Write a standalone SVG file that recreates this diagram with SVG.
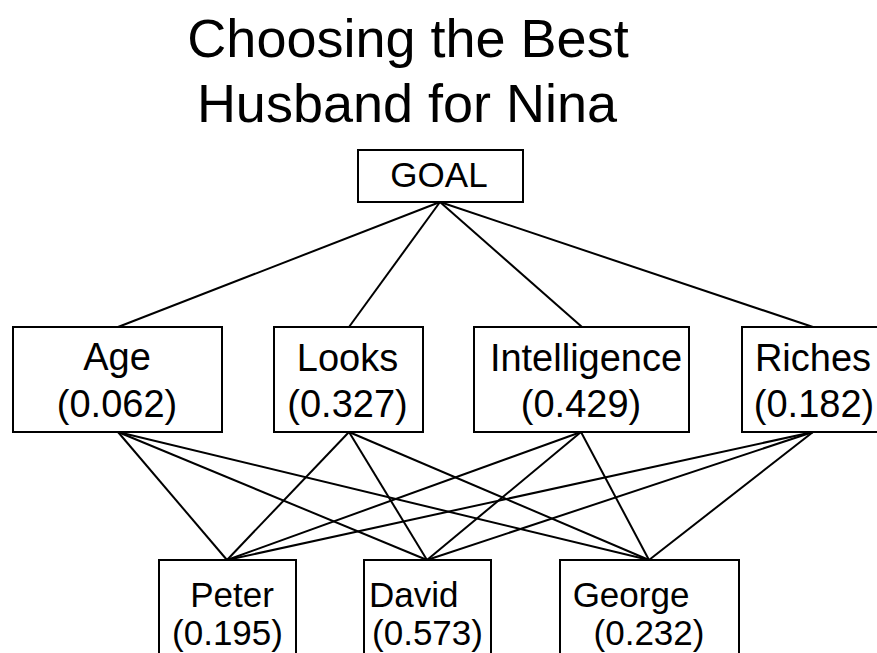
<svg xmlns="http://www.w3.org/2000/svg" width="877" height="653" viewBox="0 0 877 653">
<style>
  .box { fill: #ffffff; stroke: #000000; stroke-width: 2; }
  .edge { stroke: #000000; stroke-width: 2; fill: none; }
  .title { font-family: "Liberation Sans", Arial, sans-serif; font-size: 54px; fill: #000; text-anchor: middle; }
  .lbl { font-family: "Liberation Sans", Arial, sans-serif; font-size: 38px; fill: #000; text-anchor: middle; }
  .lbl2 { font-family: "Liberation Sans", Arial, sans-serif; font-size: 35px; fill: #000; text-anchor: middle; }
</style>
<rect width="877" height="653" fill="#ffffff"/>
<g id="title">
  <text class="title" x="408" y="57">Choosing the Best</text>
  <text class="title" x="407" y="122">Husband for Nina</text>
</g>
<g id="connectors">
  <line class="edge" x1="440" y1="202" x2="118" y2="327"/>
  <line class="edge" x1="440" y1="202" x2="349" y2="327"/>
  <line class="edge" x1="440" y1="202" x2="582" y2="327"/>
  <line class="edge" x1="440" y1="202" x2="813" y2="327"/>
  <line class="edge" x1="118" y1="432" x2="227" y2="560"/>
  <line class="edge" x1="118" y1="432" x2="427" y2="560"/>
  <line class="edge" x1="118" y1="432" x2="649" y2="560"/>
  <line class="edge" x1="349" y1="432" x2="227" y2="560"/>
  <line class="edge" x1="349" y1="432" x2="427" y2="560"/>
  <line class="edge" x1="349" y1="432" x2="649" y2="560"/>
  <line class="edge" x1="581" y1="432" x2="227" y2="560"/>
  <line class="edge" x1="581" y1="432" x2="427" y2="560"/>
  <line class="edge" x1="581" y1="432" x2="649" y2="560"/>
  <line class="edge" x1="813" y1="432" x2="227" y2="560"/>
  <line class="edge" x1="813" y1="432" x2="427" y2="560"/>
  <line class="edge" x1="813" y1="432" x2="649" y2="560"/>
</g>
<g id="goal">
  <rect class="box" x="358" y="150" width="165" height="52"/>
  <text class="lbl" x="439" y="187" style="font-size:35px">GOAL</text>
</g>
<g id="age">
  <rect class="box" x="13" y="327" width="209" height="105"/>
  <text class="lbl" x="117" y="370">Age</text>
  <text class="lbl" x="117" y="417">(0.062)</text>
</g>
<g id="looks">
  <rect class="box" x="274" y="327" width="149" height="105"/>
  <text class="lbl" x="347.5" y="371">Looks</text>
  <text class="lbl" x="347.5" y="417">(0.327)</text>
</g>
<g id="intelligence">
  <rect class="box" x="474" y="327" width="215" height="105"/>
  <text class="lbl" x="586" y="371">Intelligence</text>
  <text class="lbl" x="581" y="417">(0.429)</text>
</g>
<g id="riches">
  <rect class="box" x="742" y="327" width="150" height="105"/>
  <text class="lbl" x="813" y="371">Riches</text>
  <text class="lbl" x="814" y="417">(0.182)</text>
</g>
<g id="peter">
  <rect class="box" x="159" y="560" width="137" height="110"/>
  <text class="lbl2" x="232" y="607">Peter</text>
  <text class="lbl2" x="227.5" y="645">(0.195)</text>
</g>
<g id="david">
  <rect class="box" x="364" y="560" width="127" height="110"/>
  <text class="lbl2" x="369" y="607" style="text-anchor:start">David</text>
  <text class="lbl2" x="427.5" y="645">(0.573)</text>
</g>
<g id="george">
  <rect class="box" x="560" y="560" width="179" height="110"/>
  <text class="lbl2" x="631" y="607">George</text>
  <text class="lbl2" x="649" y="645">(0.232)</text>
</g>
</svg>
